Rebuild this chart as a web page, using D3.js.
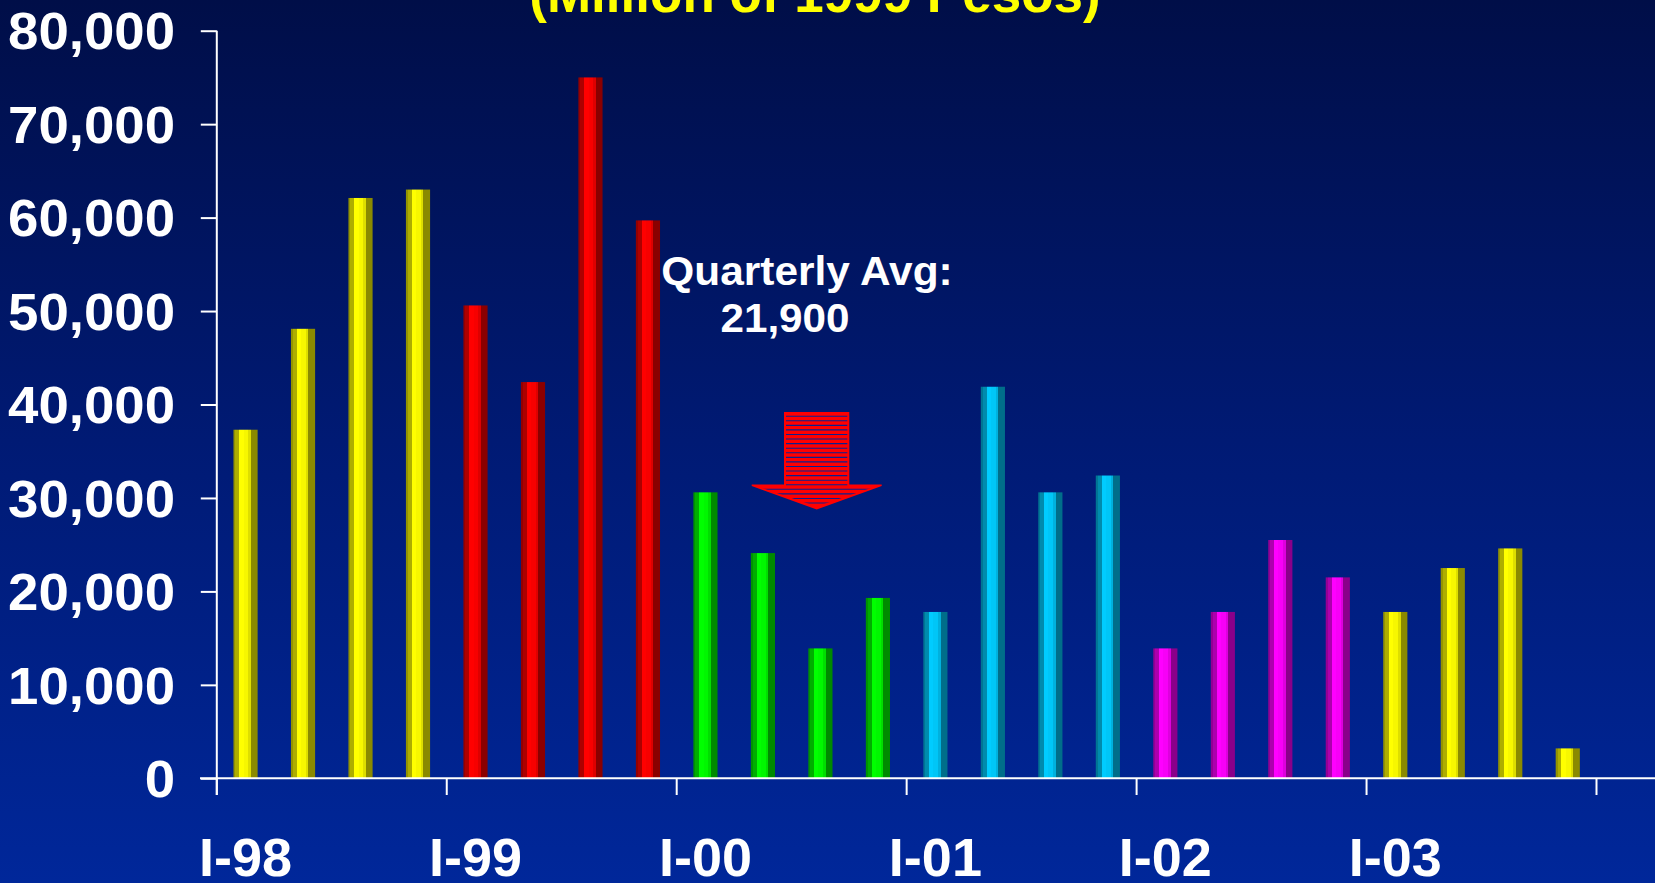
<!DOCTYPE html>
<html>
<head>
<meta charset="utf-8">
<script src="https://cdn.jsdelivr.net/npm/d3@7"></script>
<style>
  html, body { margin: 0; padding: 0; background: #001a70; overflow: hidden; }
  svg { display: block; }
  text { font-family: "Liberation Sans", Arial, sans-serif; font-weight: bold; }
</style>
</head>
<body>
<svg id="chart" width="1655" height="883"></svg>
<script>
// Quarterly values, million of 1999 pesos
const quarters = ["I-98","II-98","III-98","IV-98","I-99","II-99","III-99","IV-99",
                  "I-00","II-00","III-00","IV-00","I-01","II-01","III-01","IV-01",
                  "I-02","II-02","III-02","IV-02","I-03","II-03","III-03","IV-03"];
const values = [37300, 48100, 62100, 63000,
                50600, 42400, 75000, 59700,
                30600, 24100, 13900, 19300,
                17800, 41900, 30600, 32400,
                13900, 17800, 25500, 21500,
                17800, 22500, 24600, 3200];
const years = ["98","99","00","01","02","03"];
const yearColors = ["#ffff00","#ff0000","#00ff00","#00ccff","#ff00ff","#ffff00"];
const yTicks = [0,10000,20000,30000,40000,50000,60000,70000,80000];
const yearLabels = ["I-98","I-99","I-00","I-01","I-02","I-03"];
const titleText = "(Million of 1999 Pesos)";
const avgLabel = ["Quarterly Avg:", "21,900"];

const W = 1655, H = 883;
const svg = d3.select("#chart");
const defs = svg.append("defs");

// background
const bg = defs.append("linearGradient").attr("id","bg")
  .attr("x1",0).attr("y1",0).attr("x2",0).attr("y2",1);
bg.append("stop").attr("offset","0%").attr("stop-color","#000e48");
bg.append("stop").attr("offset","50%").attr("stop-color","#001a74");
bg.append("stop").attr("offset","100%").attr("stop-color","#00279a");
svg.append("rect").attr("width",W).attr("height",H).attr("fill","url(#bg)");

// scales
const x0 = 216.8, x1 = 1596.5;
const x = d3.scaleBand().domain(quarters).range([x0, x1])
  .paddingInner(0.58).paddingOuter(0.29);
const y = d3.scaleLinear().domain([0, 80000]).range([778.3, 30.7]);

// banded cylinder gradients for each colour
function shade(c, k) {
  const r = d3.rgb(c);
  return d3.rgb(r.r * k, r.g * k, r.b * k).formatHex();
}
const bands = [[0, 0.08, 0.58], [0.08, 0.24, 0.68], [0.24, 0.42, 1.0],
               [0.42, 0.62, 0.97], [0.62, 0.72, 0.87], [0.72, 1.0, 0.54]];
const uniqueColors = Array.from(new Set(yearColors));
uniqueColors.forEach(c => {
  const g = defs.append("linearGradient").attr("id","g" + c.slice(1))
    .attr("x1",0).attr("y1",0).attr("x2",1).attr("y2",0);
  bands.forEach(([a, b, k]) => {
    g.append("stop").attr("offset", a).attr("stop-color", shade(c, k));
    g.append("stop").attr("offset", b).attr("stop-color", shade(c, k));
  });
});

// title (partially off the top edge)
svg.append("text").attr("x", 815).attr("y", 12)
  .attr("text-anchor","middle").attr("font-size", 53)
  .attr("fill","#ffff00").text(titleText);

// bars
svg.append("g").selectAll("rect").data(values).join("rect")
  .attr("x", (d, i) => x(quarters[i]))
  .attr("width", x.bandwidth())
  .attr("y", d => y(d))
  .attr("height", d => y(0) - y(d))
  .attr("fill", (d, i) => "url(#g" + yearColors[Math.floor(i / 4)].slice(1) + ")");

// axes
const axisColor = "#ffffff";
const yAxis = d3.axisLeft(y).tickValues(yTicks).tickSize(16).tickFormat("");
const yg = svg.append("g").attr("transform", `translate(${x0},0)`).call(yAxis);
yg.select(".domain").remove();
yg.selectAll(".tick line").attr("stroke", axisColor).attr("stroke-width", 2);
svg.append("line").attr("x1", x0).attr("x2", x0).attr("y1", y(80000)).attr("y2", 795)
  .attr("stroke", axisColor).attr("stroke-width", 2);

// value labels, slightly widened face
svg.selectAll(".ylab").data(yTicks).join("text").attr("class","ylab")
  .attr("transform", d => `translate(175,${y(d)}) scale(1.05,1)`)
  .attr("dy","0.36em")
  .attr("text-anchor","end").attr("font-size", 52).attr("fill","#ffffff")
  .text(d3.format(","));

// x axis line and year boundary ticks
svg.append("line").attr("x1", 200).attr("x2", W).attr("y1", y(0)).attr("y2", y(0))
  .attr("stroke", axisColor).attr("stroke-width", 2);
const step = x.step();
const boundaries = d3.range(0, quarters.length + 1, 4).map(i => x0 + i * step);
svg.selectAll(".xtick").data(boundaries).join("line").attr("class","xtick")
  .attr("x1", d => d).attr("x2", d => d).attr("y1", y(0)).attr("y2", 795)
  .attr("stroke", axisColor).attr("stroke-width", 2);

svg.selectAll(".xlab").data(yearLabels).join("text").attr("class","xlab")
  .attr("x", d => x(d) + x.bandwidth() / 2).attr("y", 876)
  .attr("text-anchor","middle").attr("font-size", 54).attr("fill","#ffffff")
  .text(d => d);

// annotation
svg.append("text").attr("transform", "translate(807,285) scale(1.06,1)")
  .attr("text-anchor","middle")
  .attr("font-size", 40).attr("fill","#ffffff").text(avgLabel[0]);
svg.append("text").attr("transform", "translate(785,331.5) scale(1.03,1)")
  .attr("text-anchor","middle")
  .attr("font-size", 41).attr("fill","#ffffff").text(avgLabel[1]);

// striped down arrow
const arrowPts = [[784,412],[849.3,412],[849.3,484.5],[881.7,484.5],[881.7,486],
                  [816.7,509.5],[751.7,486],[751.7,484.5],[784,484.5]];
const innerPts = [[786,414],[847.3,414],[847.3,487],[874,487],
                  [816.7,506.5],[759,487],[786,487]];
const line = d3.line();
defs.append("clipPath").attr("id","arrowClip").append("path").attr("d", line(innerPts) + "Z");
svg.append("path").attr("d", line(arrowPts) + "Z").attr("fill","#ff0000");
const stripeYs = d3.range(416.2, 508, 4.57);
svg.append("g").attr("clip-path","url(#arrowClip)")
  .selectAll("line").data(stripeYs).join("line")
  .attr("x1", 740).attr("x2", 890).attr("y1", d => d).attr("y2", d => d)
  .attr("stroke","#0b2090").attr("stroke-width", 1.1);
</script>
</body>
</html>
